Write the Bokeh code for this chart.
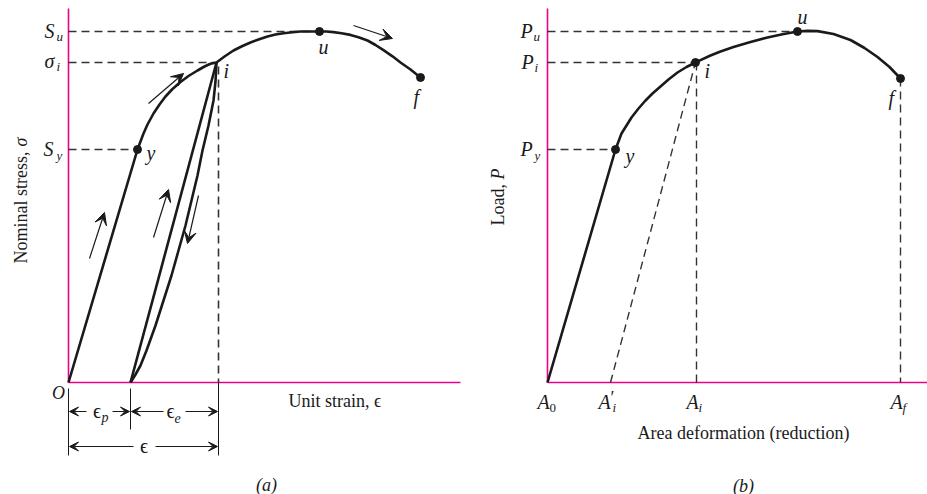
import math

from bokeh.core.properties import value
from bokeh.embed import file_html
from bokeh.layouts import row
from bokeh.models import Arrow, ColumnDataSource, Range1d, VeeHead
from bokeh.plotting import figure
from bokeh.resources import INLINE

SERIF = value("Liberation Serif")
INK = "#1a1a1a"
GUIDE = "#333333"
MAGENTA = "#ec008c"
DASH = "8 5"

# ---------------- (a) nominal stress vs unit strain ----------------
# strain / stress in drawing units, origin at O
a_curve_x = [0, 69, 72, 75, 79, 85, 91, 97, 104, 112, 120, 129, 136, 142, 148,
             156, 165, 174, 182, 190, 199, 207, 215, 224, 232, 241, 251, 258, 265,
             273, 282, 290, 299, 307, 315, 324, 332, 342, 352]
a_curve_y = [0, 233, 241, 249, 258, 269, 278, 286, 293.5, 300.5, 306.5, 312, 316, 318.8, 320,
             326, 332, 336.5, 340, 343, 346, 348, 349.3, 350.3, 351, 351, 351, 351, 350.4,
             349.3, 347.6, 345.2, 342, 337.5, 332.3, 326.2, 320, 313, 305]
a_reload_x = [62, 148]
a_reload_y = [0, 320]
a_unload_x = [148, 147, 145, 140, 134, 129, 123, 117, 110, 103, 95, 87, 78, 72, 67, 62]
a_unload_y = [320, 301, 282, 257, 232, 207, 182, 157, 132, 107, 82, 57, 32, 17, 8, 0]

a_dot_names = ["y", "u", "f"]
a_dot_x = [69, 251, 352]
a_dot_y = [233, 351, 305]

a_level_names = ["S_u", "sigma_i", "S_y"]
a_level_y = [351, 320, 233]
a_level_end = [251, 148, 69]

eps_p = 62
eps_total = 150
a_axis_x_end = 392
a_axis_y_end = 374

# ---------------- (b) load vs area deformation ----------------
b_curve_x = [0, 68, 71, 74, 79, 84, 91, 98, 105, 113, 121, 130, 139, 148, 153, 163,
             173, 186, 203, 220, 235, 250, 260, 270, 286, 303, 317, 330, 342, 353]
b_curve_y = [0, 233, 241, 249, 257, 265, 274, 282, 289, 296, 303, 310, 315.5, 320, 322.4, 327,
             331, 335.5, 340.5, 345, 348.3, 351, 351.6, 351.4, 348.5, 342.5, 334.5, 325.5, 315.5, 304]

b_dot_names = ["y", "i", "u", "f"]
b_dot_x = [68, 148, 250, 353]
b_dot_y = [233, 320, 351, 304]

b_level_names = ["P_u", "P_i", "P_y"]
b_level_y = [351, 320, 233]
b_level_end = [250, 148, 68]

area_names = ["A_0", "A'_i", "A_i", "A_f"]
area_x = [0, 63, 149, 353]
b_axis_x_end = 380
b_axis_y_end = 374


def make_fig(width, x_start):
    p = figure(width=width, height=494, output_backend="svg", toolbar_location=None,
               x_range=Range1d(x_start, x_start + width), y_range=Range1d(-112, 382),
               x_axis_type=None, y_axis_type=None, min_border=0)
    p.outline_line_color = None
    p.background_fill_color = "white"
    p.border_fill_color = "white"
    return p


def label(p, xs, ys, texts, size, style="italic", align="center", baseline="middle", angle=0.0):
    p.text(x=xs, y=ys, text=texts, text_font=SERIF, text_font_size=size,
           text_font_style=style, text_align=align, text_baseline=baseline,
           angle=angle, text_color=INK)


def arrows(p, x0, y0, x1, y1, size, width=1.0):
    src = ColumnDataSource(dict(x0=x0, y0=y0, x1=x1, y1=y1))
    p.add_layout(Arrow(end=VeeHead(size=size, fill_color=INK, line_color=INK, line_width=1),
                       x_start="x0", y_start="y0", x_end="x1", y_end="y1",
                       source=src, line_color=INK, line_width=width))


# ======== panel (a) ========
pa = make_fig(480, -68)

# axes
pa.segment(x0=[0, 0], y0=[0, 0], x1=[a_axis_x_end, 0], y1=[0, a_axis_y_end],
           line_color=MAGENTA, line_width=1.6)

# dashed guides to the stress levels and down from i
pa.segment(x0=[0] * 3, y0=a_level_y, x1=a_level_end, y1=a_level_y,
           line_color=GUIDE, line_width=1.6, line_dash=DASH)
pa.segment(x0=[eps_total], y0=[316], x1=[eps_total], y1=[0],
           line_color=GUIDE, line_width=1.6, line_dash=DASH)

# stress-strain path with unload / reload loop
pa.line(a_curve_x, a_curve_y, line_color=INK, line_width=2.6, line_join="round")
pa.line(a_reload_x, a_reload_y, line_color=INK, line_width=2.6)
pa.line(a_unload_x, a_unload_y, line_color=INK, line_width=2.6, line_join="round")
pa.scatter(a_dot_x, a_dot_y, size=8, color=INK)

# direction arrows along the path
arrows(pa, [21, 80, 85, 130, 285], [124, 279, 145, 187, 357],
       [36, 115, 100, 119, 324], [170, 309, 193, 139, 344], size=12, width=1.2)

# strain dimension lines
pa.segment(x0=[0, eps_p, eps_total], y0=[-6, -6, 0],
           x1=[0, eps_p, eps_total], y1=[-73, -47, -73], line_color=INK, line_width=1)
arrows(pa, [18, 44, 95, 117, 65, 87], [-29, -29, -29, -29, -64, -64],
       [1, 61, 63, 149, 1, 149], [-29, -29, -29, -29, -64, -64], size=9)
label(pa, [28.5, 102, 75.5], [-28, -28, -63], ["\u03f5", "\u03f5", "\u03f5"], "20px", style="normal")
label(pa, [33, 106], [-35, -35], ["p", "e"], "14px", align="left")

# point labels
label(pa, [78, 155, 250, 345], [230, 312, 336, 286], ["y", "i", "u", "f"], "20px", align="left")
label(pa, [-10], [-10], ["O"], "18px")

# stress level labels
label(pa, [-19, -19, -20], [352, 322, 234], ["S", "\u03c3", "S"], "20px")
label(pa, [-12, -12, -12], [346, 316, 227], ["u", "i", "y"], "13px", align="left")

# axis titles
label(pa, [220], [-18], ["Unit strain, \u03f5"], "18px", style="normal", align="left")
label(pa, [-48], [119], ["Nominal stress, "], "18px", style="normal", align="left", angle=math.pi / 2)
label(pa, [-48], [236], ["\u03c3"], "18px", align="left", angle=math.pi / 2)
label(pa, [198], [-102], ["(a)"], "18px")

# ======== panel (b) ========
pb = make_fig(447, -67)

pb.segment(x0=[0, 0], y0=[0, 0], x1=[b_axis_x_end, 0], y1=[0, b_axis_y_end],
           line_color=MAGENTA, line_width=1.6)

pb.segment(x0=[0] * 3, y0=b_level_y, x1=b_level_end, y1=b_level_y,
           line_color=GUIDE, line_width=1.6, line_dash=DASH)
pb.segment(x0=[area_x[2], area_x[3], area_x[1]], y0=[320, 304, 0],
           x1=[area_x[2], area_x[3], b_dot_x[1]], y1=[0, 0, 320],
           line_color=GUIDE, line_width=1.4, line_dash=DASH)

pb.line(b_curve_x, b_curve_y, line_color=INK, line_width=2.6, line_join="round")
pb.scatter(b_dot_x, b_dot_y, size=8, color=INK)

# point labels
label(pb, [78, 157, 250, 341], [227, 312, 366, 285], ["y", "i", "u", "f"], "20px", align="left")

# load level labels
label(pb, [-21, -20, -21], [352, 321, 234], ["P", "P", "P"], "20px")
label(pb, [-14, -13, -13], [346, 315, 227], ["u", "i", "y"], "13px", align="left")

# area labels on the deformation axis
label(pb, [-4, 57, 145, 349], [-19, -19, -19, -19], ["A", "A", "A", "A"], "20px")
label(pb, [2], [-25], ["0"], "13px", style="normal", align="left")
label(pb, [63], [-15], ["\u2032"], "18px", style="normal", align="left")
label(pb, [65, 151, 355], [-25, -25, -25], ["i", "i", "f"], "13px", align="left")

# axis titles
label(pb, [196], [-50], ["Area deformation (reduction)"], "18px", style="normal")
label(pb, [-50], [157], ["Load, "], "18px", style="normal", align="left", angle=math.pi / 2)
label(pb, [-50], [203], ["P"], "18px", align="left", angle=math.pi / 2)
label(pb, [196], [-103], ["(b)"], "18px")

layout = row(pa, pb)
open("out.html", "w").write(file_html(layout, INLINE))
